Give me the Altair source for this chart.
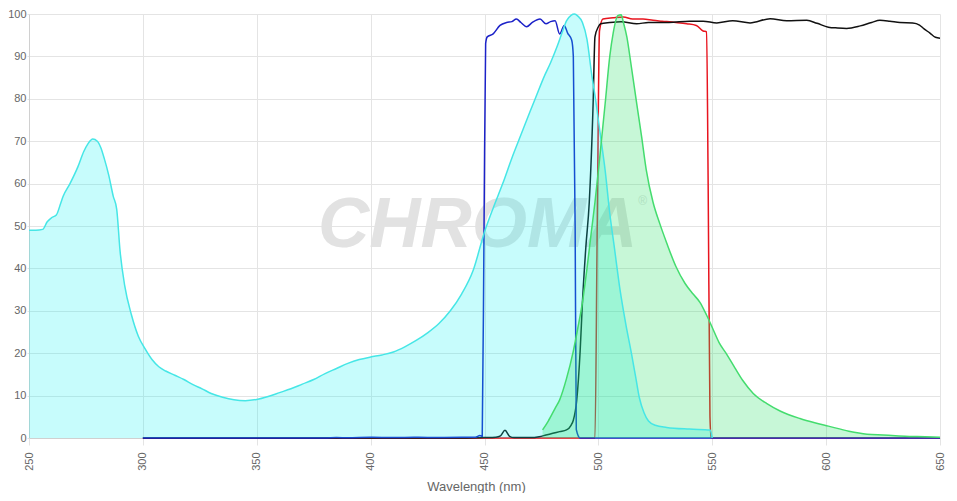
import altair as alt
import pandas as pd

# ---- data ----
exc_nm = [250, 253, 256, 258, 260, 262, 264, 265, 268, 271.5, 274, 276, 278, 280, 281.5, 283, 285, 287, 288.5,
          290, 292, 295, 298, 301, 304, 307, 310, 314, 318, 322, 326, 330, 335, 340, 345, 350, 355, 360, 365,
          370, 375, 380, 385, 390, 395, 400, 405, 410, 415, 420, 425, 430, 435, 440, 445, 450, 454, 458, 462,
          466, 470, 473, 476, 479, 482, 484, 486, 488, 489.5, 491, 493, 495, 497, 499, 501, 503, 505, 507,
          509.5, 512, 514.5, 516.5, 518, 520, 522, 525, 530, 540, 549, 550]
exc_val = [49, 49, 49.2, 51, 52, 52.6, 55.5, 57, 60, 64, 67.5, 69.5, 70.5, 70, 68.5, 66, 62, 57, 54,
           44, 36, 29, 24, 21, 18.5, 16.8, 15.8, 14.8, 13.8, 12.6, 11.6, 10.5, 9.6, 9.0, 8.8, 9.1, 9.8, 10.7, 11.6,
           12.7, 13.8, 15.2, 16.4, 17.6, 18.5, 19.1, 19.6, 20.3, 21.5, 23, 24.8, 27, 30, 34, 39.5, 48.6, 54.5, 60, 66,
           71.5, 77, 81, 85, 88.5, 92.5, 95.5, 98.4, 99.7, 100, 99.5, 98, 94, 86, 79, 71, 63, 53, 45,
           35, 27, 20, 14, 9.5, 6, 4, 3, 2.5, 2.1, 1.9, 0]

em_nm = [475.5, 478, 481, 483, 486, 489, 491, 493, 495, 497, 498.5, 500, 501.5, 503, 505, 506.5, 508.5, 510,
         511, 512.5, 514.5, 516.8, 519, 521, 524, 527, 530, 534, 538, 541.5, 544.6, 547.5, 550.3, 553, 556.3,
         560, 563.5, 568, 574, 580, 588.5, 595, 601, 610, 618, 625, 632, 640, 650]
em_val = [1.9, 4, 7, 9, 14, 20.5, 26, 32, 40, 49, 55.6, 63, 71, 79, 90, 95.5, 99.6, 99.8,
          98, 94.6, 87.5, 79, 71, 63.3, 55.6, 50.5, 46, 40.5, 36.5, 34, 32, 29, 25.7, 22.5, 19.8,
          16.5, 13.5, 10.5, 8.1, 6.3, 4.6, 3.6, 2.8, 1.6, 0.9, 0.7, 0.5, 0.35, 0.2]

dich_nm = [300, 350, 400, 440, 450, 455, 457, 459, 461, 463, 470, 474, 477, 480, 483, 486, 488, 489, 490.5,
           492, 493, 494.5, 496, 497.7, 498.5, 500, 501, 505, 510, 516.8, 522, 531, 540, 546, 552, 559, 566.6,
           575.4, 582.7, 591.5, 596, 601, 605, 609, 615, 620, 623.6, 628, 632.4, 638, 641, 643, 645.6, 648, 650]
dich_val = [0, 0, 0, 0, 0.1, 0.2, 0.5, 1.8, 0.4, 0.1, 0.1, 0.3, 0.7, 1.1, 1.5, 1.9, 3, 4.2, 8.9,
            20.5, 32, 45, 55.6, 79, 94.6, 97, 97.7, 98, 98.2, 97.7, 98, 98, 98.3, 98.3, 97.9, 98.4, 97.9,
            98.9, 98.4, 98.5, 97.8, 96.9, 96.7, 96.6, 97.2, 98, 98.5, 98.3, 98, 97.9, 97.4, 96.5, 95.5, 94.5, 94.3]

emf_nm = [300, 498.5, 499.5, 500.5, 502, 506.5, 511, 515, 519.6, 524, 528, 534, 538.8, 543, 546, 547.5,
          548.2, 549, 549.5, 650]
emf_val = [0, 0, 50, 96, 98.8, 99.1, 99.3, 98.8, 98.8, 98.5, 98.3, 98, 97.7, 97.3, 96, 95.8,
           60, 5, 0, 0]

exf_nm = [300, 380, 385, 390, 400, 410, 420, 430, 440, 446, 448, 449, 449.8, 450.5, 451.2, 453.8, 456.8,
          459.7, 462, 464, 466, 468.5, 471, 474.4, 477, 479, 481, 483, 485, 486.5, 488.3, 489, 489.8, 490.3,
          492, 650]
exf_val = [0, 0, 0.1, 0.05, 0.15, 0.1, 0.15, 0.1, 0.15, 0.2, 0.6, 0.4, 50, 93, 94.6, 95.3, 97.3,
           98, 98.2, 98.8, 98, 97, 98, 98.8, 97.7, 98.2, 98.4, 95.3, 97.3, 95.5, 93.8, 90, 50, 2,
           0, 0]

x_ticks = [250, 300, 350, 400, 450, 500, 550, 600, 650]
y_ticks = [0, 10, 20, 30, 40, 50, 60, 70, 80, 90, 100]

FONT = "Liberation Sans, Arial, sans-serif"

def df(nm, v):
    return pd.DataFrame({"nm": nm, "v": v})

xs = alt.X("nm:Q", scale=alt.Scale(domain=[250, 650], nice=False),
           axis=alt.Axis(values=x_ticks, title="Wavelength (nm)", labelAngle=270, grid=True))
ys = alt.Y("v:Q", scale=alt.Scale(domain=[0, 100], nice=False),
           axis=alt.Axis(values=y_ticks, title=None, grid=True))

wm = alt.Chart(pd.DataFrame({"nm": [447], "v": [50], "t": ["CHROMA"]})).mark_text(
    font=FONT, fontSize=71, fontWeight="bold", fontStyle="italic", color="#e2e2e2",
    align="center", baseline="middle").encode(x=xs, y=ys, text="t:N")
reg = alt.Chart(pd.DataFrame({"nm": [519.5], "v": [56], "t": ["®"]})).mark_text(
    font=FONT, fontSize=12, color="#e2e2e2", align="center", baseline="middle").encode(x=xs, y=ys, text="t:N")

def line(nm, v, color):
    return alt.Chart(df(nm, v)).mark_line(color=color, strokeWidth=1.5, interpolate="monotone").encode(
        x=xs, y=ys)

def area(nm, v, color, op):
    return alt.Chart(df(nm, v)).mark_area(fill=color, fillOpacity=op, interpolate="monotone").encode(
        x=xs, y=ys)

CYAN = "#46e6e6"
GREEN = "#44dc6e"

chart = alt.layer(
    wm, reg,
    line(emf_nm, emf_val, "#e8141e"),
    line(dich_nm, dich_val, "#111111"),
    line(exf_nm, exf_val, "#1c22c8"),
    area(exc_nm, exc_val, "#00f0f0", 0.22),
    area(em_nm, em_val, "#1ee060", 0.25),
    line(exc_nm, exc_val, CYAN),
    line(em_nm, em_val, GREEN),
).properties(
    width=911, height=424,
    autosize=alt.AutoSizeParams(type="none"),
    padding={"left": 21, "top": 6, "right": 9, "bottom": 55},
).configure_view(stroke=None).configure_axis(
    gridColor="#e4e4e4", domainColor="#d0d0d0", tickColor="#e4e4e4",
    labelColor="#666666", titleColor="#666666", labelFont=FONT, titleFont=FONT,
    labelFontSize=11, titleFontSize=13, titleFontWeight="normal",
).configure_axisX(
    tickSize=7, labelPadding=7, labelAlign="right", labelBaseline="middle",
    titleX=447, titleY=52, titleBaseline="alphabetic", titleAnchor="middle", titleAlign="center",
).configure_axisY(
    tickSize=2, labelPadding=1,
)

chart.save("out.html", embed_options={"renderer": "svg", "actions": False})
